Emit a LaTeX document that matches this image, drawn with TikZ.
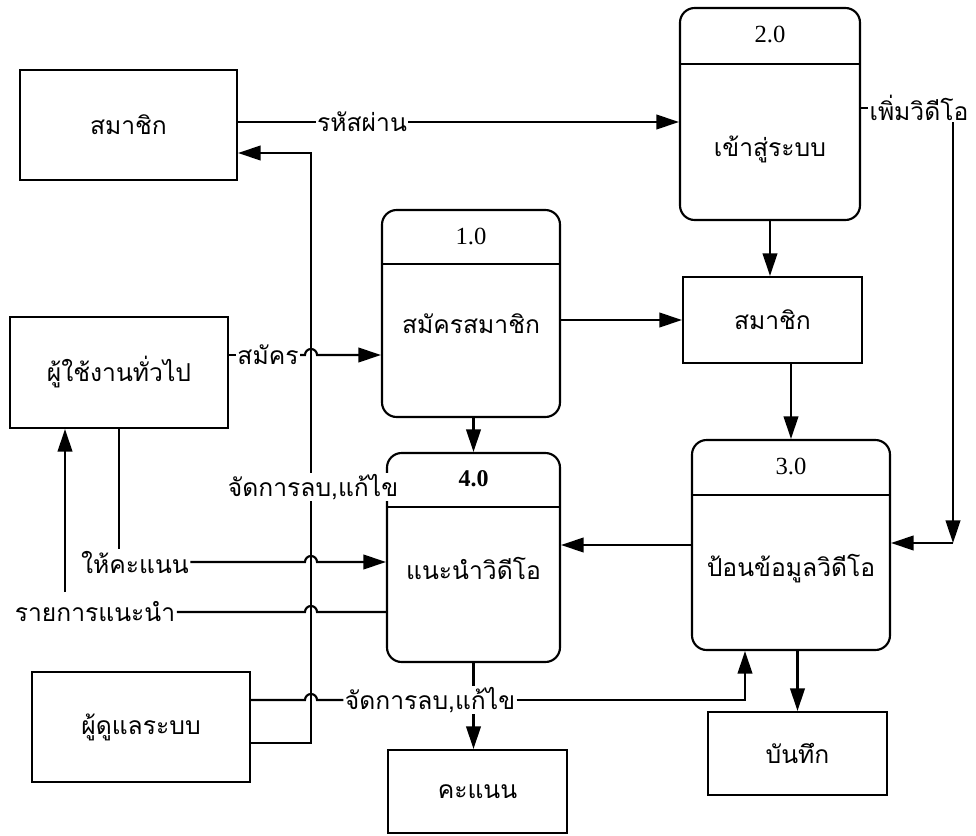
\documentclass[tikz,border=0pt]{standalone}
\usepackage{fontspec}
\setmainfont{Liberation Serif}
\newfontfamily\thai[Script=Thai]{Loma}
\usetikzlibrary{arrows.meta,calc}

\begin{document}
\begin{tikzpicture}[x=0.75pt,y=-0.75pt,
  every node/.style={font=\thai\fontsize{18.5}{20}\selectfont},
  ent/.style={draw, line width=1.6pt, inner sep=0pt},
  proc/.style={draw, line width=1.6pt, rounded corners=11pt, inner sep=0pt},
  lbl/.style={fill=white, inner sep=1pt},
  num/.style={font=\fontsize{18.5}{20}\selectfont},
  link/.style={line width=1.6pt},
  flow/.style={line width=1.6pt, -{Triangle[length=17pt,width=11pt]}}]

\fill[white] (0,0) rectangle (976,836);
\useasboundingbox (0,0) rectangle (976,836);

% external entities and data stores
\node[ent, minimum width=162.75pt, minimum height=82.5pt] (mem) at (128.5,125) {สมาชิก};
\node[ent, minimum width=163.5pt, minimum height=83.25pt] (user) at (119,372.5) {ผู้ใช้งานทั่วไป};
\node[ent, minimum width=163.5pt, minimum height=82.5pt] (admin) at (141,727) {ผู้ดูแลระบบ};
\node[ent, minimum width=134.25pt, minimum height=64.5pt] (store) at (772.5,320) {สมาชิก};
\node[ent, minimum width=134.25pt, minimum height=62.25pt] (score) at (477.5,791.5) {คะแนน};
\node[ent, minimum width=134.25pt, minimum height=62.25pt] (rec) at (797.5,753.5) {บันทึก};

% processes: rounded box with a header row for the number
\node[proc, minimum width=133.5pt, minimum height=155.25pt] (p1) at (471,313.5) {};
\draw[link] ($(p1.north west)+(0,55)$) -- ($(p1.north east)+(0,55)$);
\node[num] (p1n) at ($(p1.north)+(0,28)$) {1.0};
\node (p1t) at ($(p1.north)+(0,115)$) {สมัครสมาชิก};

\node[proc, minimum width=135pt, minimum height=159pt] (p2) at (770,114) {};
\draw[link] ($(p2.north west)+(0,57)$) -- ($(p2.north east)+(0,57)$);
\node[num] (p2n) at ($(p2.north)+(0,28)$) {2.0};
\node (p2t) at ($(p2.north)+(0,142)$) {เข้าสู่ระบบ};

\node[proc, minimum width=148.5pt, minimum height=157.5pt] (p3) at (791,545) {};
\draw[link] ($(p3.north west)+(0,56)$) -- ($(p3.north east)+(0,56)$);
\node[num] (p3n) at ($(p3.north)+(0,28)$) {3.0};
\node (p3t) at ($(p3.north)+(0,130)$) {ป้อนข้อมูลวิดีโอ};

\node[proc, minimum width=129.75pt, minimum height=156.75pt] (p4) at (473.5,557.5) {};
\draw[link] ($(p4.north west)+(0,55)$) -- ($(p4.north east)+(0,55)$);
\node[num, font=\bfseries\fontsize{18}{20}\selectfont] (p4n) at ($(p4.north)+(0,27)$) {4.0};
\node (p4t) at ($(p4.north)+(0,117)$) {แนะนำวิดีโอ};

% flow labels
\node[lbl] (pw) at (362,122) {รหัสผ่าน};
\node[lbl] (av) at (919,108) {เพิ่มวิดีโอ};
\node[lbl] (sm) at (268,355) {สมัคร};
\node[lbl] (gv) at (135,562) {ให้คะแนน};
\node[lbl] (rc) at (95,612) {รายการแนะนำ};
\node[lbl] (j1) at (313,487) {จัดการลบ,แก้ไข};
\node[lbl] (j2) at (430,700) {จัดการลบ,แก้ไข};

% bend points
\coordinate (busb) at (311,743);
\coordinate (bust) at (311,153);
\coordinate (up) at (65,592);
\coordinate (c3) at (745,700);
\coordinate (rt) at (953,543);

% member login
\draw[link] (mem.east |- pw) -- (pw.west);
\draw[flow] (pw.east) -- (pw.east -| p2.west);

% admin edits go back to the member entity
\draw[link] (admin.east |- busb) -- (busb) -- (busb |- j1.south);
\draw[flow] (j1.north -| bust) -- (bust) -- (bust -| mem.east);

% registration
\draw[link] (user.east |- sm) -- (sm.west);
\draw[flow] (sm.east) -- ($(bust |- sm)+(-6,0)$) arc[start angle=180,end angle=0,radius=4.5pt] -- (p1.west |- sm);

% rating
\draw[link] (user.south) -- (user.south |- gv.north);
\draw[flow] (gv.east) -- ($(bust |- gv)+(-6,0)$) arc[start angle=180,end angle=0,radius=4.5pt] -- (p4.west |- gv);

% recommendation list
\draw[link] (p4.west |- rc) -- ($(bust |- rc)+(6,0)$) arc[start angle=0,end angle=180,radius=4.5pt] -- (rc.east);
\draw[flow] (up) -- (up |- user.south);

% admin edits video data and scores
\draw[link] (admin.east |- j2) -- ($(bust |- j2)+(-6,0)$) arc[start angle=180,end angle=0,radius=4.5pt] -- (j2.west);
\draw[flow] (j2.east) -- (c3) -- (c3 |- p3.south);
\draw[link] (p4.south) -- (p4.south |- j2.north);
\draw[flow] (p4.south |- j2.south) -- (p4.south |- score.north);

% internal flows
\draw[flow] (p2.south) -- (p2.south |- store.north);
\draw[flow] (p3.north |- store.south) -- (p3.north);
\draw[flow] (p1.east |- store.west) -- (store.west);
\draw[flow] (p1.south -| p4.north) -- (p4.north);
\draw[flow] (p3.west) -- (p3.west -| p4.east);
\draw[flow] (rec.north |- p3.south) -- (rec.north);

% add video
\draw[link] (p2.east |- av) -- (av.west);
\draw[flow] (av.south -| rt) -- (rt);
\draw[flow] (rt) -- (rt -| p3.east);
\end{tikzpicture}
\end{document}
